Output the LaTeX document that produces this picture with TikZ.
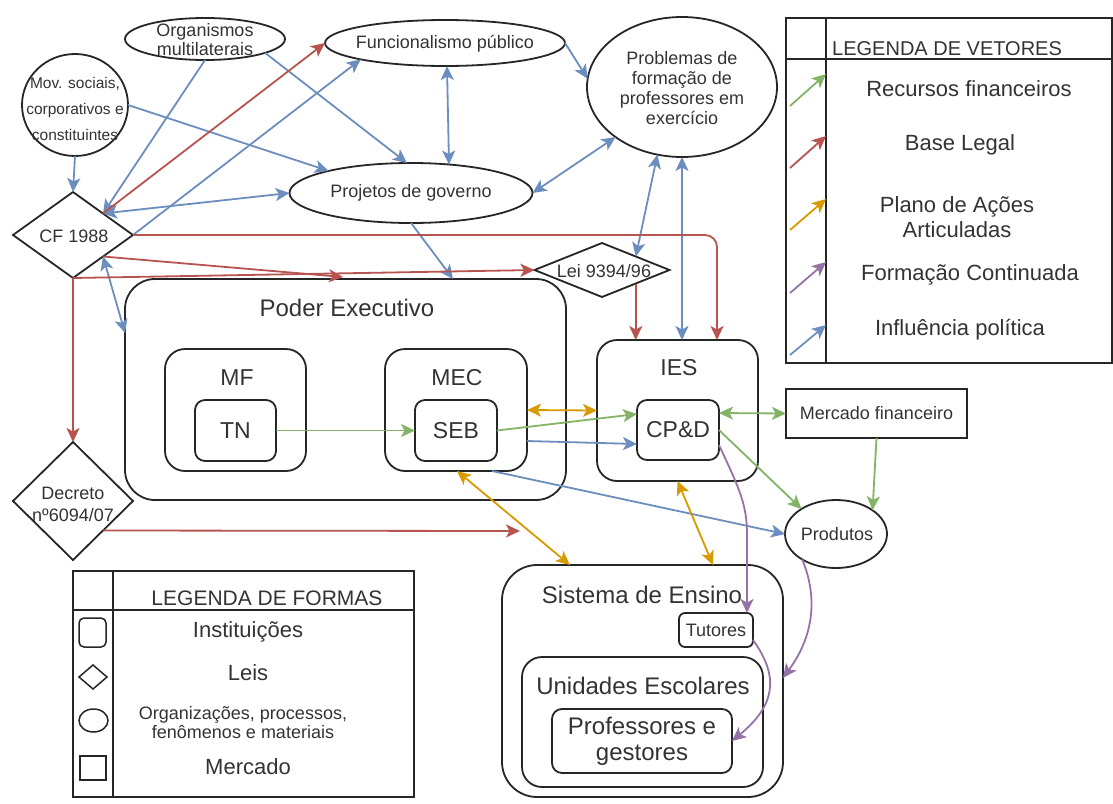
\documentclass[tikz,border=0pt]{standalone}
\usepackage{fontspec}
\setmainfont{Liberation Sans}
\usetikzlibrary{shapes.geometric,arrows.meta,calc}
\definecolor{cblue}{HTML}{6C8EBF}
\definecolor{cred}{HTML}{B85450}
\definecolor{cgreen}{HTML}{82B366}
\definecolor{cyellow}{HTML}{D79B00}
\definecolor{cpurple}{HTML}{9673A6}
\definecolor{ctext}{HTML}{333333}
\newcommand{\fsz}[2]{\fontsize{#1}{#2}\selectfont}
\begin{document}
\begin{tikzpicture}[x=1pt,y=-1pt,
  >={Stealth[length=14pt,width=13pt,inset=3.5pt]},
  shp/.style={draw=black!85, line width=1.8pt, inner sep=0pt, outer sep=0pt},
  rbox/.style={shp, rectangle, rounded corners=#1},
  rbox/.default=10pt,
  ell/.style={shp, ellipse},
  dia/.style={shp, diamond},
  sqbox/.style={shp, rectangle},
  txt/.style={text=ctext, inner sep=0pt, align=center},
  con/.style={line width=1.8pt},
  blu/.style={con, draw=cblue},
  rd/.style={con, draw=cred},
  grn/.style={con, draw=cgreen},
  yel/.style={con, draw=cyellow},
  pur/.style={con, draw=cpurple},
]
\useasboundingbox (0,0) rectangle (1113,803);

% ---------- upper shapes
\node[ell, minimum width=160pt, minimum height=42pt] (org) at (205,39) {};
\node[txt, font=\fsz{18}{19}] (orgt) at (205,40) {Organismos\\multilaterais};
\node[ell, minimum width=240pt, minimum height=46pt] (func) at (445,43) {};
\node[txt, font=\fsz{18}{20}] (funct) at (445,44) {Funcionalismo público};
\node[ell, minimum width=190pt, minimum height=140pt] (prob) at (682,87) {};
\node[txt, font=\fsz{18}{20}] (probt) at (682,88) {Problemas de\\formação de\\professores em\\exercício};
\node[ell, minimum width=106pt, minimum height=102pt] (mov) at (75,105) {};
\node[txt, font=\fsz{15.5}{26}] (movt) at (75,109) {Mov. sociais,\\corporativos e\\constituintes};
\node[ell, minimum width=243pt, minimum height=60pt] (proj) at (411,193) {};
\node[txt, font=\fsz{18}{20}] (projt) at (411,193) {Projetos de governo};

% ---------- laws
\node[dia, minimum width=120pt, minimum height=86pt] (cf) at (73,235) {};
\node[txt, font=\fsz{18}{20}] (cft) at (74,236) {CF 1988};
\node[dia, minimum width=135pt, minimum height=54pt] (lei) at (602,270) {};
\node[txt, font=\fsz{18}{20}] (leit) at (604,271) {Lei 9394/96};
\node[dia, minimum width=120pt, minimum height=118pt] (dec) at (73,501) {};
\node[txt, font=\fsz{18}{22}] (dect) at (73,504) {Decreto\\nº6094/07};

% ---------- institutions
\node[rbox=30pt, minimum width=441pt, minimum height=221pt] (pe) at (345.5,389.5) {};
\node[txt, font=\fsz{24}{28}] (pet) at (347,308) {Poder Executivo};
\node[rbox=20pt, minimum width=141pt, minimum height=122pt] (mf) at (235.5,410) {};
\node[txt, font=\fsz{23}{26}] (mft) at (237,378) {MF};
\node[rbox=10pt, minimum width=81pt, minimum height=61pt, text=ctext, font=\fsz{23}{26}] (tn) at (235.5,430.5) {TN};
\node[rbox=20pt, minimum width=142pt, minimum height=122pt] (mec) at (456,410) {};
\node[txt, font=\fsz{23}{26}] (mect) at (457,378) {MEC};
\node[rbox=10pt, minimum width=82pt, minimum height=61pt, text=ctext, font=\fsz{23}{26}] (seb) at (456,430.5) {SEB};
\node[rbox=20pt, minimum width=161pt, minimum height=141pt] (ies) at (677.5,410.5) {};
\node[txt, font=\fsz{23}{26}] (iest) at (679,368) {IES};
\node[rbox=10pt, minimum width=82pt, minimum height=60pt, text=ctext, font=\fsz{23}{26}] (cpd) at (678,430) {CP\&D};
\node[sqbox, minimum width=181pt, minimum height=49pt, text=ctext, font=\fsz{18}{20}] (merc) at (876.5,413.5) {Mercado financeiro};
\node[ell, minimum width=102pt, minimum height=68pt] (prod) at (836,534) {};
\node[txt, font=\fsz{18}{20}] (prodt) at (837,534) {Produtos};
\node[rbox=35pt, minimum width=281pt, minimum height=232pt] (se) at (642.5,681) {};
\node[txt, font=\fsz{24}{28}] (set) at (642,595) {Sistema de Ensino};
\node[rbox=6pt, minimum width=74pt, minimum height=34pt, text=ctext, font=\fsz{18}{20}] (tut) at (716,630) {Tutores};
\node[rbox=20pt, minimum width=241pt, minimum height=130pt] (ue) at (642.5,722) {};
\node[txt, font=\fsz{24}{28}] (uet) at (643,686) {Unidades Escolares};
\node[rbox=10pt, minimum width=180pt, minimum height=64pt, text=ctext, align=center, font=\fsz{24}{26}] (pg) at (642,741) {Professores e\\gestores};

% ---------- blue connectors
\draw[blu,->] (mov.south) -- (cf.north);
\draw[blu,->] (mov.east) -- (proj.165);
\draw[blu,->] (org.south) -- (cf.north east);
\draw[blu,->] (org.-13) -- ([xshift=-4pt]proj.north);
\draw[blu,->] (cf.east) -- (func.191);
\draw[blu,<->] (cf.north east) -- (proj.west);
\draw[blu,<->] ([xshift=2pt]func.south) -- ([xshift=38pt,yshift=-1.5pt]proj.north);
\draw[blu,->] (func.east) -- (prob.175);
\draw[blu,<->] (proj.east) -- (prob.217);
\draw[blu,->] (proj.south) -- ([xshift=107.5pt]pe.north);
\draw[blu,<->] (prob.250) -- (lei.north east);
\draw[blu,<->] (prob.south) -- (prob.south |- ies.north);
\draw[blu,<->] (cf.south east) -- ([yshift=56.5pt]pe.west);
\draw[blu,->] ([yshift=-31pt]mec.east) -- ([yshift=-14pt]cpd.west);
\draw[blu,->] ([xshift=36pt]mec.south) -- (prod.west);

% ---------- red connectors
\coordinate (r3e) at (343,277);
\coordinate (r7e) at (520,531);
\draw[rd,->] (cf.north east) -- (func.west);
\draw[rd,->,rounded corners=12pt] (cf.east) -| ([xshift=39.5pt]ies.north);
\draw[rd,->] (cf.south east) -- (r3e);
\draw[rd,->] (cf.south) -- (lei.west);
\draw[rd,->] (cf.south) -- (dec.north);
\draw[rd,->] (lei.south east) -- (lei.south east |- ies.north);
\draw[rd,->] (dec.south east) -- (r7e);

% ---------- green connectors
\draw[grn,->] (tn.east) -- (seb.west);
\draw[grn,->] (seb.east) -- ([yshift=16pt]cpd.west);
\draw[grn,<->] ([yshift=17pt]cpd.east) -- (merc.west);
\draw[grn,->] (cpd.east) -- (prod.144);
\draw[grn,->] (merc.south) -- (prod.33);

% ---------- yellow connectors
\draw[yel,<->] (mec.east) -- (ies.west);
\draw[yel,<->] ([xshift=1pt]mec.south) -- ([xshift=-72.5pt]se.north);
\draw[yel,<->] (ies.south) -- ([xshift=70.5pt]se.north);

% ---------- purple connectors
\draw[pur,->] ([yshift=-15pt]cpd.east) .. controls (740,490) and (747,505) .. (747,535) -- ([xshift=31pt]tut.north);
\draw[pur,->] ([yshift=-10pt]tut.east) .. controls (782,680) and (772,708) .. (pg.east);
\draw[pur,->] (prod.217) .. controls (815,590) and (818,630) .. ([yshift=3pt]se.east);

% ---------- legend of vectors
\node[sqbox, minimum width=326pt, minimum height=345pt] (legv) at (949,190.5) {};
\draw[line width=1.8pt, draw=black!85] ([xshift=40pt]legv.north west) -- ([xshift=40pt]legv.south west);
\draw[line width=1.8pt, draw=black!85] ([yshift=-41pt]legv.north west) -- ([yshift=-41pt]legv.north east);
\node[txt, anchor=west, font=\fsz{20}{24}] (legvh) at (832,49) {LEGENDA DE VETORES};
\coordinate (la1) at (790,106); \coordinate (lb1) at (826,74);
\coordinate (la2) at (790,168); \coordinate (lb2) at (826,136);
\coordinate (la3) at (790,230); \coordinate (lb3) at (826,199);
\coordinate (la4) at (790,293); \coordinate (lb4) at (826,262);
\coordinate (la5) at (790,355); \coordinate (lb5) at (826,325);
\draw[grn,->] (la1) -- (lb1);
\draw[rd,->] (la2) -- (lb2);
\draw[yel,->] (la3) -- (lb3);
\draw[pur,->] (la4) -- (lb4);
\draw[blu,->] (la5) -- (lb5);
\node[txt, font=\fsz{22}{25}] (lv1) at (969,89) {Recursos financeiros};
\node[txt, font=\fsz{22}{25}] (lv2) at (960,145) {Base Legal};
\node[txt, font=\fsz{22}{25}] (lv3) at (957,217.5) {Plano de Ações\\Articuladas};
\node[txt, font=\fsz{22}{25}] (lv4) at (970,275) {Formação Continuada};
\node[txt, font=\fsz{22}{25}] (lv5) at (960,330) {Influência política};

% ---------- legend of shapes
\node[sqbox, minimum width=341pt, minimum height=226pt] (legf) at (243.5,684) {};
\draw[line width=1.8pt, draw=black!85] ([xshift=40pt]legf.north west) -- ([xshift=40pt]legf.south west);
\draw[line width=1.8pt, draw=black!85] ([yshift=-39pt]legf.north west) -- ([yshift=-39pt]legf.north east);
\node[txt, font=\fsz{21}{24}] (legfh) at (267,598) {LEGENDA DE FORMAS};
\node[rbox=5pt, line width=1.5pt, minimum width=27pt, minimum height=29pt] (icr) at (92.5,632.5) {};
\node[dia, line width=1.5pt, minimum width=28pt, minimum height=24pt] (icd) at (93,677) {};
\node[ell, line width=1.5pt, minimum width=29pt, minimum height=23pt] (ice) at (93.5,720.5) {};
\node[sqbox, line width=1.5pt, minimum width=26pt, minimum height=24pt] (ics) at (93,768) {};
\node[txt, font=\fsz{22}{25}] (lf1) at (248,632) {Instituições};
\node[txt, font=\fsz{22}{25}] (lf2) at (248,673) {Leis};
\node[txt, font=\fsz{18}{19}] (lf3) at (243,723) {Organizações, processos,\\fenômenos e materiais};
\node[txt, font=\fsz{22}{25}] (lf4) at (248,767) {Mercado};
\end{tikzpicture}
\end{document}
